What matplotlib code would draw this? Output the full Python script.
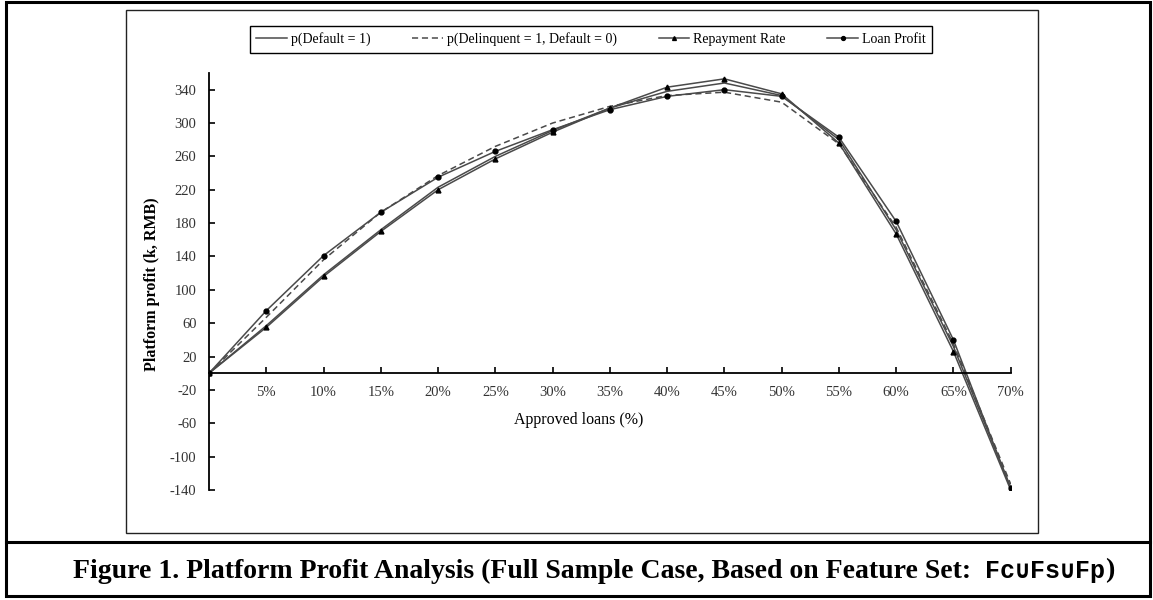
import matplotlib
matplotlib.use("Agg")
import matplotlib.pyplot as plt
from matplotlib.lines import Line2D
from matplotlib.patches import Rectangle

plt.rcParams['font.family'] = ['Liberation Serif', 'DejaVu Serif']

# approved share of loans (%)
approved = [0, 5, 10, 15, 20, 25, 30, 35, 40, 45, 50, 55, 60, 65, 70]

# platform profit (k, RMB)
p_default = [0, 57, 118, 172, 223, 260, 291, 318, 338, 348, 333, 280, 172, 32, -137]
p_delinquent = [0, 67, 136, 193, 237, 272, 300, 320, 333, 337, 325, 275, 175, 35, -133]
repayment_rate = [0, 55, 116, 170, 220, 257, 289, 318, 343, 353, 335, 276, 167, 26, -140]
loan_profit = [0, 75, 141, 193, 235, 266, 292, 316, 332, 340, 332, 283, 182, 40, -138]

x_ticks = [5, 10, 15, 20, 25, 30, 35, 40, 45, 50, 55, 60, 65, 70]
y_ticks = [-140, -100, -60, -20, 20, 60, 100, 140, 180, 220, 260, 300, 340]

W, H = 1153, 600
fig = plt.figure(figsize=(W / 100, H / 100), dpi=100)

# outer border, caption divider and inner chart frame
fig.patches.append(Rectangle((5.7 / W, 1 - 596 / H), (1150 - 5.7) / W, (596 - 2) / H,
                             transform=fig.transFigure, fill=False, lw=2.2, ec="black"))
fig.add_artist(Line2D([5.7 / W, 1150 / W], [1 - 542.3 / H] * 2, transform=fig.transFigure,
                      color="black", lw=2.2))
fig.patches.append(Rectangle((125.7 / W, 1 - 533.3 / H), (1038 - 125.7) / W, (533.3 - 10) / H,
                             transform=fig.transFigure, fill=False, lw=1.0, ec="#222222"))

ax = fig.add_axes([209 / W, 1 - 490 / H, (1010.7 - 209) / W, (490 - 73) / H])

line_col = "#4a4a4a"
ax.plot(approved, p_default, color=line_col, lw=1.1, label="p(Default = 1)")
ax.plot(approved, p_delinquent, color=line_col, lw=1.1, ls=(0, (4, 2.5)),
        label="p(Delinquent = 1, Default = 0)")
ax.plot(approved, repayment_rate, color=line_col, lw=1.1, marker="^", ms=3.5,
        mfc="black", mec="black", label="Repayment Rate")
ax.plot(approved, loan_profit, color=line_col, lw=1.1, marker="o", ms=3.5,
        mfc="black", mec="black", label="Loan Profit")

ax.set_xlim(0, 70)
ax.set_ylim(-140, 360)
ax.spines['top'].set_visible(False)
ax.spines['right'].set_visible(False)
ax.spines['left'].set_position(('data', 0))
ax.spines['bottom'].set_position(('data', 0))
ax.spines['left'].set_linewidth(1.3)
ax.spines['bottom'].set_linewidth(1.3)

ax.set_xticks(x_ticks)
ax.set_xticklabels([f"{v}%" for v in x_ticks])
ax.set_yticks(y_ticks)
ax.set_yticklabels([str(v) for v in y_ticks])
ax.tick_params(direction="in", length=4, width=1.2, labelsize=10.5,
               labelcolor="#333333")
ax.tick_params(axis="x", pad=9)
ax.tick_params(axis="y", pad=9)

fig.text(579 / W, 1 - 420 / H, "Approved loans (%)", ha="center", va="center",
         fontsize=11.5)
fig.text(152 / W, 1 - 284 / H, "Platform profit (k, RMB)", ha="center", va="center",
         rotation=90, fontsize=11.5, fontweight="bold")

leg = ax.legend(loc="center", bbox_to_anchor=(591 / W, 1 - 39.5 / H),
                bbox_transform=fig.transFigure, ncol=4, fontsize=10,
                frameon=True, fancybox=False, edgecolor="black", framealpha=1,
                handlelength=2.2, handletextpad=0.3, columnspacing=3.0,
                borderpad=0.45, markerscale=0.8)
leg.get_frame().set_linewidth(1.0)

# caption: serif bold text, then the feature set in bold monospace
renderer = fig.canvas.get_renderer()
cap_y = 1 - 571 / H
cap = fig.text(73 / W, cap_y,
               "Figure 1. Platform Profit Analysis (Full Sample Case, Based on Feature Set:  ",
               ha="left", va="center", fontsize=20, fontweight="bold")
x_end = cap.get_window_extent(renderer).x1 / W
feat = fig.text(x_end, cap_y, "Fc\u222aFs\u222aFp", ha="left", va="center",
                fontsize=18, fontweight="bold", family=["Liberation Mono", "DejaVu Sans Mono"])
x_end = feat.get_window_extent(renderer).x1 / W
fig.text(x_end, cap_y, ")", ha="left", va="center", fontsize=20, fontweight="bold")

fig.savefig("out.png", dpi=100)
